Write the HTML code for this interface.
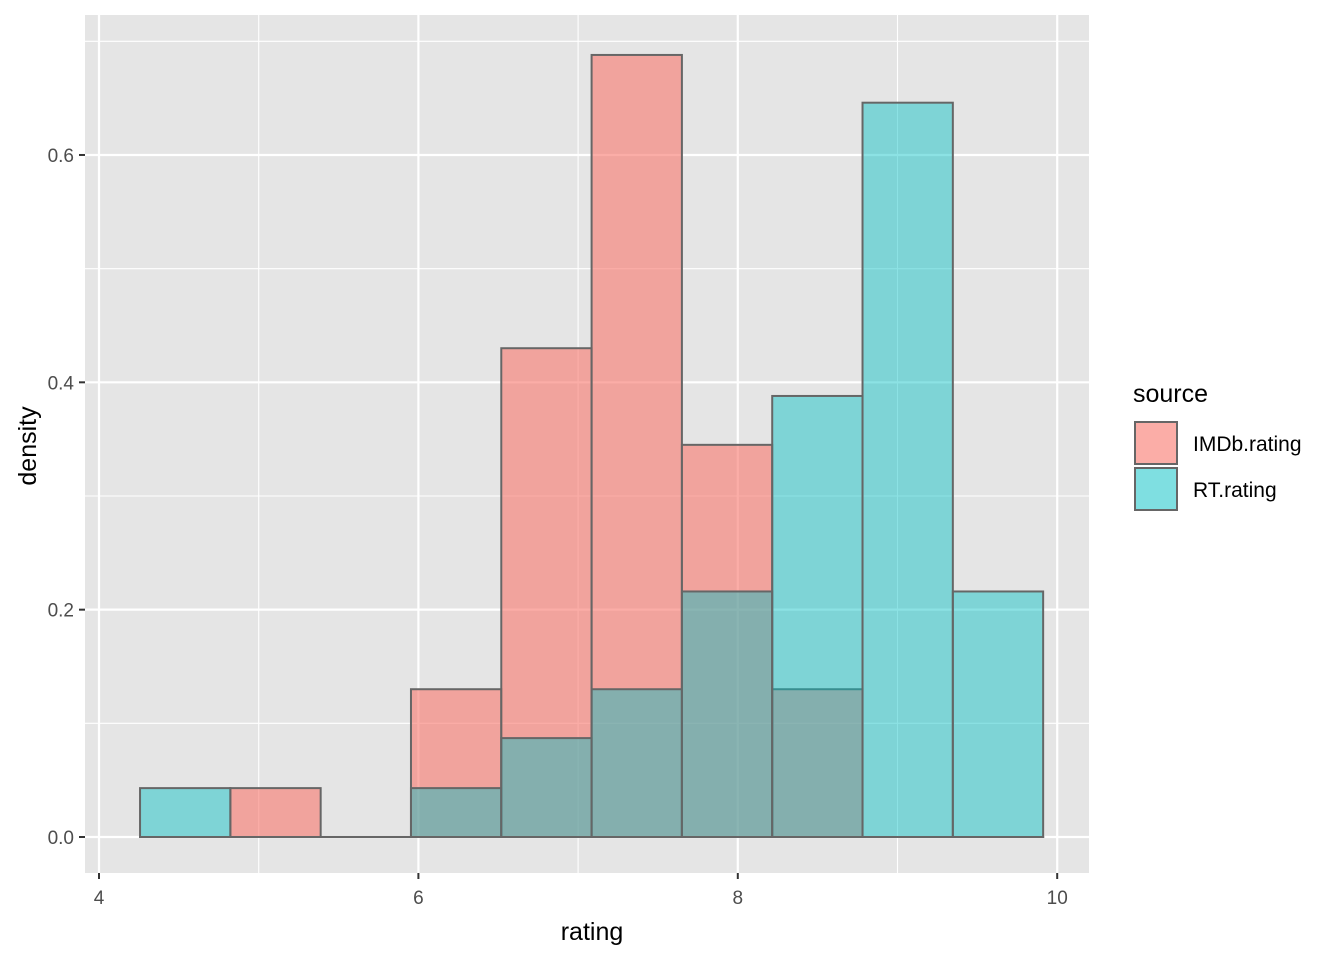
<!DOCTYPE html>
<html><head><meta charset="utf-8"><style>
body{margin:0;background:#fff}
svg text{font-family:"Liberation Sans",Arial,sans-serif}
</style></head><body>
<svg id="chart" width="1344" height="960" xmlns="http://www.w3.org/2000/svg">
<rect x="85" y="15" width="1004" height="858" fill="#E5E5E5"/>
<g id="grid"></g>
<g id="bars"></g>
<g id="axes"></g>
<text x="592" y="940" font-size="25" text-anchor="middle" fill="#000">rating</text>
<text transform="translate(36,446) rotate(-90)" font-size="25" text-anchor="middle" fill="#000">density</text>
<g>
<text x="1133" y="402" font-size="25" fill="#000">source</text>
<g>
<rect x="1135" y="422" width="42" height="42" fill="#F8766D" fill-opacity="0.6" stroke="#666" stroke-width="2"/>
<text x="1193" y="451" font-size="21" fill="#000">IMDb.rating</text></g>
<g>
<rect x="1135" y="468" width="42" height="42" fill="#00BFC4" fill-opacity="0.5" stroke="#666" stroke-width="2"/>
<text x="1193" y="497" font-size="21" fill="#000">RT.rating</text></g>
</g>
</svg>
<script>
const binStart = 4.257;
const binWidth = 0.5655;
const imdbDensity = [0, 0.043, 0, 0.13, 0.43, 0.688, 0.345, 0.13, 0, 0];
const rtDensity = [0.043, 0, 0, 0.043, 0.087, 0.13, 0.216, 0.388, 0.646, 0.216];
const xTicks = [4, 6, 8, 10];
const yTicks = [0, 0.2, 0.4, 0.6];
const xMinor = [5, 7, 9];
const yMinor = [0.1, 0.3, 0.5, 0.7];

const NS = "http://www.w3.org/2000/svg";
const xs = v => 99 + (v - 4) * 159.7;
const ys = v => 837 - v * 1136.7;
function mk(tag, attrs, parent){const e=document.createElementNS(NS,tag);for(const k in attrs)e.setAttribute(k,attrs[k]);parent.appendChild(e);return e;}
const grid=document.getElementById('grid'), bars=document.getElementById('bars'), axes=document.getElementById('axes');
xMinor.forEach(v=>{const l=mk('line',{x1:xs(v),x2:xs(v),y1:15,y2:873,stroke:'#fff','stroke-width':1.1},grid);

});
yMinor.forEach(v=>{const l=mk('line',{x1:85,x2:1089,y1:ys(v),y2:ys(v),stroke:'#fff','stroke-width':1.1},grid);

});
xTicks.forEach(v=>{const l=mk('line',{x1:xs(v),x2:xs(v),y1:15,y2:873,stroke:'#fff','stroke-width':2.2},grid);


const t=mk('line',{x1:xs(v),x2:xs(v),y1:873,y2:879,stroke:'#333','stroke-width':2},axes);


const tx=mk('text',{x:xs(v),y:904,'font-size':19,'text-anchor':'middle',fill:'#4D4D4D'},axes);tx.textContent=v;

});
yTicks.forEach(v=>{const l=mk('line',{x1:85,x2:1089,y1:ys(v),y2:ys(v),stroke:'#fff','stroke-width':2.2},grid);


const t=mk('line',{x1:79,x2:85,y1:ys(v),y2:ys(v),stroke:'#333','stroke-width':2},axes);


const tx=mk('text',{x:74,y:ys(v)+7,'font-size':19,'text-anchor':'end',fill:'#4D4D4D'},axes);tx.textContent=v.toFixed(1);

});
function drawSeries(arr, color, op, name){
 arr.forEach((d,i)=>{const x0=xs(binStart+i*binWidth), x1=xs(binStart+(i+1)*binWidth);
 const h=Math.max(ys(0)-ys(d),0.01);
 const r=mk('rect',{x:x0,y:ys(0)-h,width:x1-x0,height:h,fill:color,'fill-opacity':op,stroke:'#666','stroke-width':2},bars);
 
 });
}
drawSeries(imdbDensity,'#F8766D',0.6,'imdb');
drawSeries(rtDensity,'#00BFC4',0.45,'rt');
</script>
</body></html>
